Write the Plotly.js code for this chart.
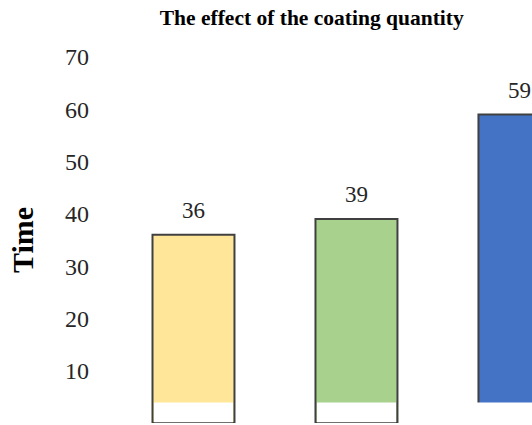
<!DOCTYPE html>
<html>
<head>
<meta charset="utf-8">
<script src="https://cdn.plot.ly/plotly-3.0.1.min.js"></script>
<style>html,body{margin:0;padding:0;overflow:hidden;background:#fff;}</style>
</head>
<body>
<div id="chart" style="width:532px;height:425px;"></div>
<script>
const categories = [0, 1, 2];
const timeValues = [36, 39, 59];
const valueLabels = ['36', '39', '59'];
const whiteTop = 3.9;
const barColors = ['#FFE699', '#A9D18E', '#4472C4'];
const yTicks = [10, 20, 30, 40, 50, 60, 70];

const serif = '"Liberation Serif", "Times New Roman", serif';

const mainBars = {
  type: 'bar', x: categories, y: timeValues, width: 0.503,
  marker: {color: barColors, line: {color: '#404040', width: 2}},
  hoverinfo: 'none', showlegend: false
};
// white band hiding the bottom of the coloured fill (keeps side outlines of the first two bars)
const whiteBase = [0.15, 0.15, -1];
const baseBars = {
  type: 'bar', x: categories,
  base: whiteBase,
  y: whiteBase.map(b => whiteTop - b),
  width: [0.485, 0.485, 0.6],
  marker: {color: '#ffffff', line: {width: 0}},
  hoverinfo: 'none', showlegend: false
};

const annotations = categories.map((c, i) => ({
  x: c, y: timeValues[i], text: valueLabels[i], showarrow: false,
  yanchor: 'bottom', yshift: 10, font: {family: serif, size: 23, color: '#262626'}
}));

const layout = {
  width: 532, height: 425,
  margin: {l: 112, r: 0, t: 57, b: 1.5},
  paper_bgcolor: '#fff', plot_bgcolor: '#fff',
  barmode: 'overlay',
  title: {text: '<b>The effect of the coating quantity</b>', x: 0.586, xanchor: 'center', y: 0.958, yanchor: 'middle',
          font: {family: serif, size: 21.5, color: '#000'}},
  xaxis: {range: [-0.5, 2.077], showticklabels: false, showgrid: false, zeroline: false, showline: false, ticks: ''},
  yaxis: {range: [0, 70], tickvals: yTicks, showgrid: false, zeroline: false, showline: false,
          ticklabelstandoff: 22,
          tickfont: {family: serif, size: 24, color: '#262626'},
          title: {text: '<b>Time</b>', standoff: 22, font: {family: serif, size: 30, color: '#000'}}},
  annotations: annotations
};

Plotly.newPlot('chart', [mainBars, baseBars], layout, {displayModeBar: false, staticPlot: true});
</script>
</body>
</html>
